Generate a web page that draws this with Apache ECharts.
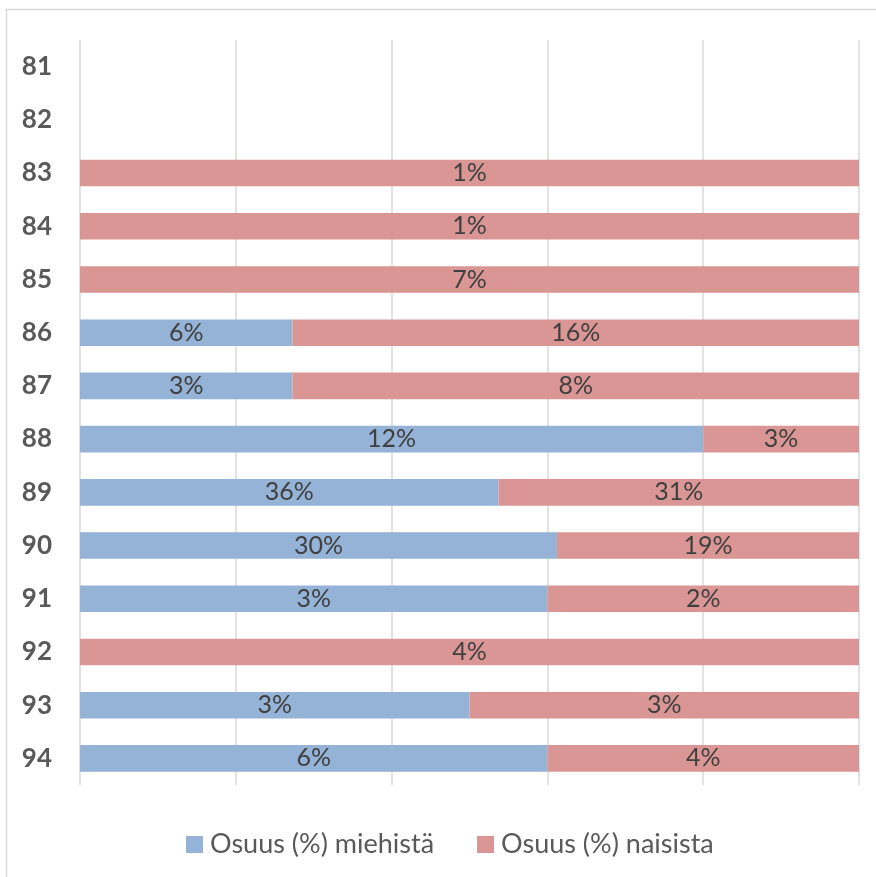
<!DOCTYPE html>
<html><head><meta charset="utf-8">
<script src="https://cdn.jsdelivr.net/npm/echarts@6/dist/echarts.min.js"></script>
<style>html,body{margin:0;padding:0;background:#fff}#c{width:876px;height:877px}</style>
</head><body><div id="c"></div>
<script>
const categories = ['81','82','83','84','85','86','87','88','89','90','91','92','93','94'];
const men =   [null,null,null,null,null,6,3,12,36,30,3,null,3,6];
const women = [null,null,1,1,7,16,8,3,31,19,2,4,3,4];
const seriesNames = ['Osuus (%) miehistä','Osuus (%) naisista'];

function share(a, i) {
  const m = men[i] || 0, w = women[i] || 0, t = m + w;
  if (a[i] == null || t === 0) return null;
  return { value: a[i] / t * 100, raw: a[i] };
}
const menData = men.map((v, i) => share(men, i));
const womenData = women.map((v, i) => share(women, i));

const chart = echarts.init(document.getElementById('c'));
const lbl = {
  show: true, position: 'inside', color: '#404040', fontSize: 25,
  fontFamily: 'Lato', formatter: p => p.data.raw + '%'
};
chart.setOption({
  animation: false,
  graphic: [{ type: 'rect', shape: { x: 6.5, y: 9.5, width: 900, height: 900 },
    style: { fill: 'none', stroke: '#d9d9d9', lineWidth: 1.5 }, silent: true }],
  legend: {
    left: 181, top: 826, itemWidth: 17, itemHeight: 17, itemGap: 43,
    icon: 'rect',
    textStyle: { color: '#595959', fontSize: 27, fontFamily: 'Lato', lineHeight: 20, padding: [0, 0, 0, 2] },
    data: seriesNames
  },
  grid: { left: 80, right: 17, top: 40, bottom: 92, containLabel: false },
  xAxis: {
    type: 'value', min: 0, max: 100, interval: 20,
    axisLabel: { show: false }, axisLine: { show: false }, axisTick: { show: false },
    splitLine: { lineStyle: { color: '#d9d9d9', width: 1.5 } }
  },
  yAxis: {
    type: 'category', data: categories, inverse: true,
    axisLine: { show: false }, axisTick: { show: false },
    axisLabel: { color: '#595959', fontSize: 26, fontWeight: 'bold', fontFamily: 'Lato', margin: 28 }
  },
  series: [
    { name: seriesNames[0], type: 'bar', stack: 't', data: menData, barCategoryGap: '50%',
      itemStyle: { color: '#95B3D7' }, label: lbl },
    { name: seriesNames[1], type: 'bar', stack: 't', data: womenData, barCategoryGap: '50%',
      itemStyle: { color: '#D99694' }, label: lbl }
  ]
});
</script></body></html>
